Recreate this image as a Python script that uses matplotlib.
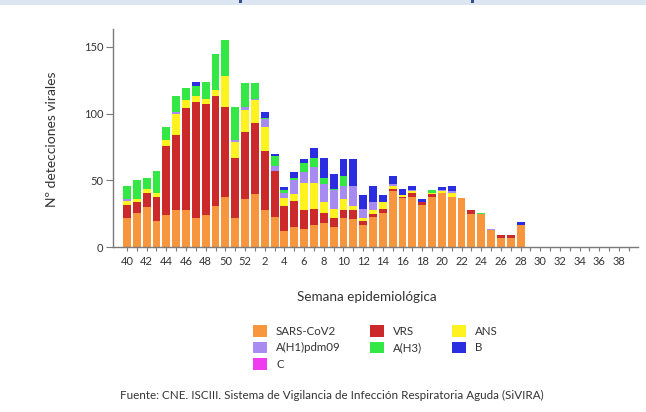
import matplotlib
matplotlib.use("Agg")
import matplotlib.pyplot as plt
from matplotlib.patches import Rectangle, Patch
import numpy as np

plt.rcParams['font.family'] = ['Lato', 'DejaVu Sans']

weeks = [str(w) for w in list(range(40, 53)) + list(range(1, 40))]

sars = [22, 26, 30, 20, 24, 28, 28, 22, 24, 31, 38, 22, 36, 40, 28, 23, 12, 15, 14, 17, 18, 15, 22, 21,
        17, 23, 26, 42, 37, 38, 32, 38, 41, 38, 37, 25, 25, 13, 7, 7, 17] + [0] * 11
vrs = [10, 8, 11, 18, 52, 56, 76, 87, 83, 82, 67, 45, 50, 53, 44, 34, 19, 20, 14, 12, 8, 7, 6, 7,
       3, 2, 3, 2, 1, 3, 2, 2, 0, 0, 0, 3, 0, 0, 2, 2, 0] + [0] * 11
ans = [3, 2, 3, 3, 4, 16, 6, 4, 4, 5, 23, 12, 17, 17, 18, 0, 6, 5, 20, 19, 8, 7, 8, 3,
       2, 3, 5, 2, 1, 1, 0, 1, 1, 3, 0, 0, 0, 0, 0, 0, 0] + [0] * 11
h1 = [1, 0, 0, 0, 0, 1, 0, 0, 0, 0, 0, 1, 2, 1, 6, 4, 4, 10, 8, 12, 13, 14, 10, 15,
      7, 6, 0, 1, 0, 1, 0, 0, 1, 1, 0, 0, 0, 1, 0, 0, 0] + [0] * 11
h3 = [10, 14, 8, 16, 10, 12, 9, 8, 13, 27, 27, 25, 18, 12, 1, 7, 2, 2, 7, 7, 5, 1, 7, 0,
      0, 0, 0, 0, 0, 0, 0, 2, 0, 0, 0, 0, 1, 0, 0, 0, 0] + [0] * 11
b = [0, 0, 0, 0, 0, 0, 0, 3, 0, 0, 0, 0, 0, 0, 4, 2, 2, 4, 3, 7, 15, 11, 13, 20,
     10, 12, 5, 6, 5, 3, 2, 0, 2, 4, 0, 0, 0, 0, 0, 0, 2] + [0] * 11
c = [0] * 52

series = [
    ("SARS-CoV2", sars, "#F7963C"),
    ("VRS", vrs, "#CC2A2A"),
    ("ANS", ans, "#FFF21E"),
    ("A(H1)pdm09", h1, "#A88BF0"),
    ("A(H3)", h3, "#33E844"),
    ("B", b, "#2A2EE0"),
    ("C", c, "#F03CF0"),
]

TXT = '#333333'
W, H = 646, 412
fig = plt.figure(figsize=(W / 100, H / 100), dpi=100)
ax = fig.add_axes([113 / W, 1 - 247.3 / H, (638 - 113) / W, (247.3 - 29.5) / H])

x = np.arange(len(weeks))
bottom = np.zeros(len(weeks))
for name, vals, col in series:
    v = np.array(vals, dtype=float)
    ax.bar(x, v, bottom=bottom, width=0.8, color=col, edgecolor='none', label=name)
    bottom += v

ax.set_xlim(-1.42, 51.93)
ax.set_ylim(0, 163)
ax.set_yticks([0, 50, 100, 150])
ax.set_xticks(x)
ax.set_xticklabels([w if i % 2 == 0 else "" for i, w in enumerate(weeks)])

for s in ['top', 'right']:
    ax.spines[s].set_visible(False)
for s in ['left', 'bottom']:
    ax.spines[s].set_color('#7a7a7a')
    ax.spines[s].set_linewidth(1.0)
ax.tick_params(axis='x', length=3, width=0.8, color='#7a7a7a', labelsize=8, labelcolor=TXT, pad=3)
ax.tick_params(axis='y', length=5, width=0.8, color='#7a7a7a', labelsize=8, labelcolor=TXT, pad=2)

fig.text(52 / W, 1 - 139 / H, "Nº detecciones virales", rotation=90, ha='center', va='center',
         fontsize=10, color=TXT)
fig.text(367 / W, 1 - 297 / H, "Semana epidemiológica", ha='center', va='center',
         fontsize=9.7, color=TXT)
fig.text(332 / W, 1 - 395 / H,
         "Fuente: CNE. ISCIII. Sistema de Vigilancia de Infección Respiratoria Aguda (SiVIRA)",
         ha='center', va='center', fontsize=8.4, color=TXT)

handles = {name: Patch(facecolor=col, edgecolor='none') for name, _, col in series}
order = ["SARS-CoV2", "A(H1)pdm09", "C", "VRS", "A(H3)", "ANS", "B"]
fig.legend([handles[n] for n in order], order, loc='upper left',
           bbox_to_anchor=(253 / W, 1 - 325 / H), ncol=3, frameon=False,
           fontsize=8.3, handlelength=1.2, handleheight=1.2, handletextpad=0.8,
           columnspacing=2.55, labelspacing=0.42, borderpad=0, borderaxespad=0,
           labelcolor=TXT)

# top band
fig.patches.append(Rectangle((0, 1 - 5 / H), 1, 5 / H, transform=fig.transFigure,
                             facecolor='#DCE6F2', edgecolor='none'))
for dx in (240, 472):
    fig.patches.append(Rectangle(((dx - 1.5) / W, 1 - 3 / H), 3 / W, 3 / H, transform=fig.transFigure,
                                 facecolor='#2F4F8F', edgecolor='none'))

fig.savefig("out.png", dpi=100)
